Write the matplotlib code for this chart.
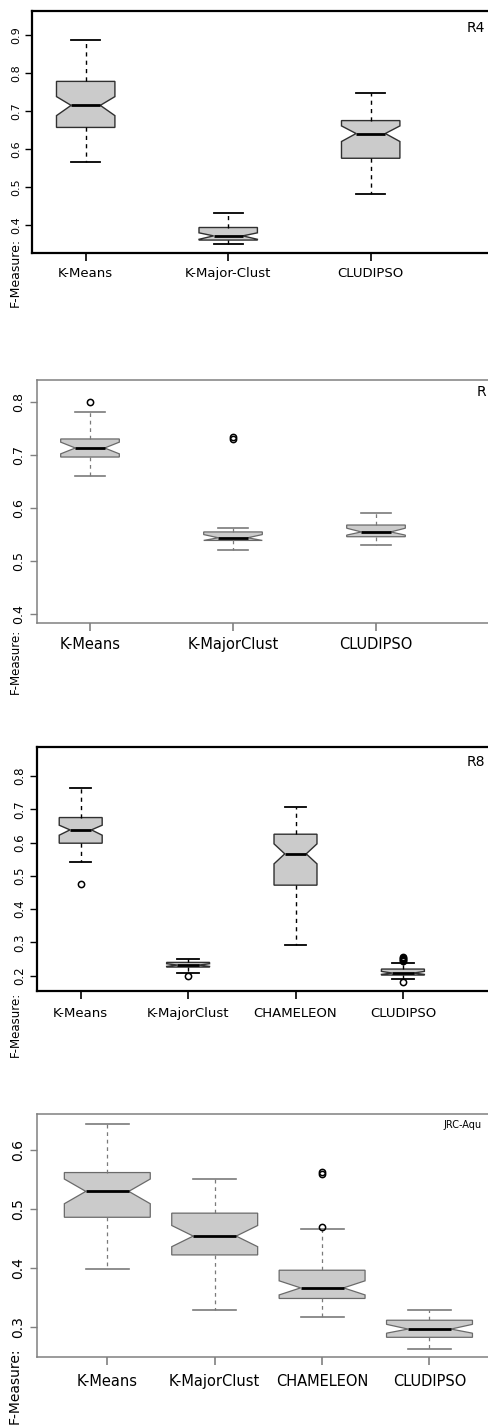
#!/usr/bin/env python3
import matplotlib

matplotlib.use("Agg")
import matplotlib.pyplot as plt  # noqa: E402

# -------------------------------
# Data
# -------------------------------
R4_NAMES = ["K-Means", "K-Major-Clust", "CLUDIPSO"]
R4_WHISLO = [0.565, 0.350, 0.481]
R4_Q1 = [0.657, 0.361, 0.576]
R4_MED = [0.715, 0.372, 0.641]
R4_Q3 = [0.778, 0.394, 0.675]
R4_WHISHI = [0.888, 0.432, 0.748]
R4_CILO = [0.688, 0.363, 0.620]
R4_CIHI = [0.738, 0.380, 0.661]
R4_FLIERS = [[], [], []]

R52_NAMES = ["K-Means", "K-MajorClust", "CLUDIPSO"]
R52_WHISLO = [0.661, 0.521, 0.530]
R52_Q1 = [0.696, 0.539, 0.546]
R52_MED = [0.713, 0.544, 0.555]
R52_Q3 = [0.730, 0.555, 0.568]
R52_WHISHI = [0.780, 0.563, 0.591]
R52_CILO = [0.702, 0.539, 0.549]
R52_CIHI = [0.724, 0.550, 0.562]
R52_FLIERS = [[0.800], [0.730, 0.734], []]

R8_NAMES = ["K-Means", "K-MajorClust", "CHAMELEON", "CLUDIPSO"]
R8_WHISLO = [0.542, 0.208, 0.291, 0.189]
R8_Q1 = [0.598, 0.226, 0.472, 0.202]
R8_MED = [0.638, 0.232, 0.566, 0.208]
R8_Q3 = [0.675, 0.240, 0.625, 0.220]
R8_WHISHI = [0.765, 0.250, 0.708, 0.237]
R8_CILO = [0.622, 0.228, 0.536, 0.204]
R8_CIHI = [0.652, 0.236, 0.596, 0.213]
R8_FLIERS = [[0.475], [0.198], [], [0.181, 0.245, 0.248, 0.251, 0.254, 0.257]]

JRC_NAMES = ["K-Means", "K-MajorClust", "CHAMELEON", "CLUDIPSO"]
JRC_WHISLO = [0.398, 0.328, 0.316, 0.262]
JRC_Q1 = [0.486, 0.422, 0.348, 0.282]
JRC_MED = [0.530, 0.454, 0.366, 0.296]
JRC_Q3 = [0.562, 0.493, 0.396, 0.311]
JRC_WHISHI = [0.645, 0.551, 0.466, 0.329]
JRC_CILO = [0.509, 0.436, 0.354, 0.289]
JRC_CIHI = [0.551, 0.472, 0.378, 0.304]
JRC_FLIERS = [[], [], [0.469, 0.559, 0.563], []]

W, H = 489, 1425


def make_stats(names, lo, q1, med, q3, hi, cilo, cihi, fliers):
    return [
        dict(label=n, whislo=a, q1=b, med=c, q3=d, whishi=e, cilo=f, cihi=g, fliers=h)
        for n, a, b, c, d, e, f, g, h in zip(names, lo, q1, med, q3, hi, cilo, cihi, fliers)
    ]


def draw_panel(fig, px, stats, ylim, yticks, tag, tag_xy, tag_size, style):
    left, top, bottom, p1, step, width = px
    ax = fig.add_axes([left / W, 1 - bottom / H, (W - left) / W, (bottom - top) / H])
    n = len(stats)
    pos = list(range(1, n + 1))
    dark = style["dark"]
    ax.bxp(
        stats,
        positions=pos,
        widths=width,
        shownotches=True,
        patch_artist=True,
        boxprops=dict(facecolor="#cbcbcb", edgecolor=style["edge"], linewidth=style["lw"]),
        whiskerprops=dict(color=dark, linestyle=(0, (3, 3)), linewidth=style["lw"]),
        capprops=dict(color=dark, linewidth=style["lw"] + 0.3),
        medianprops=dict(color="black", linewidth=style["mlw"]),
        flierprops=dict(marker="o", markerfacecolor="none", markeredgecolor="black",
                        markersize=4.5, markeredgewidth=1.1),
    )
    ax.set_xlim(1 - (p1 - left) / step, 1 + (W - p1) / step)
    ax.set_ylim(*ylim)
    ax.set_yticks(yticks)
    ax.set_yticklabels([f"{t:.1f}" for t in yticks], fontsize=style["yfs"])
    ax.set_xticks(pos)
    ax.set_xticklabels([s["label"] for s in stats], fontsize=style["xfs"])
    ax.tick_params(axis="y", labelrotation=90, length=5, width=1, color=style["spine"],
                   pad=style["ypad"])
    ax.tick_params(axis="x", length=6, width=1.2, color=style["spine"], pad=style["xpad"])
    for lab in ax.get_yticklabels():
        lab.set_va("center")
    ax.spines["right"].set_visible(False)
    for side in ("top", "left", "bottom"):
        ax.spines[side].set_color(style["spine"])
        ax.spines[side].set_linewidth(style["slw"])
    fig.text(tag_xy[0] / W, 1 - tag_xy[1] / H, tag, fontsize=tag_size, ha="left", va="center")
    return ax


def main():
    fig = plt.figure(figsize=(W / 100, H / 100), dpi=100)

    heavy = dict(dark="black", edge="#303030", lw=1.0, mlw=2.0, spine="black", slw=1.6,
                 yfs=8, xfs=9.5, ypad=2.5, xpad=4)
    light = dict(dark="#7a7a7a", edge="#6a6a6a", lw=0.9, mlw=2.0, spine="#808080", slw=1.1,
                 yfs=9, xfs=10.5, ypad=3.5, xpad=4)

    draw_panel(fig, (32, 11, 253, 85.7, 142.5, 0.41),
               make_stats(R4_NAMES, R4_WHISLO, R4_Q1, R4_MED, R4_Q3, R4_WHISHI,
                          R4_CILO, R4_CIHI, R4_FLIERS),
               (0.327, 0.963), [0.4, 0.5, 0.6, 0.7, 0.8, 0.9], "R4", (467, 28), 10, heavy)
    draw_panel(fig, (36.7, 380, 623.3, 90, 143, 0.41),
               make_stats(R52_NAMES, R52_WHISLO, R52_Q1, R52_MED, R52_Q3, R52_WHISHI,
                          R52_CILO, R52_CIHI, R52_FLIERS),
               (0.383, 0.841), [0.4, 0.5, 0.6, 0.7, 0.8], "R", (477, 392), 10, light)
    heavy3 = dict(heavy, yfs=8.5, xfs=9.5, xpad=6)
    draw_panel(fig, (36.7, 747.3, 990.7, 80.7, 107.4, 0.40),
               make_stats(R8_NAMES, R8_WHISLO, R8_Q1, R8_MED, R8_Q3, R8_WHISHI,
                          R8_CILO, R8_CIHI, R8_FLIERS),
               (0.155, 0.886), [0.2, 0.3, 0.4, 0.5, 0.6, 0.7, 0.8], "R8", (467, 762), 10, heavy3)
    light4 = dict(light, yfs=10, xfs=10.5, xpad=6)
    draw_panel(fig, (36.7, 1114.3, 1357.3, 107.3, 107.4, 0.80),
               make_stats(JRC_NAMES, JRC_WHISLO, JRC_Q1, JRC_MED, JRC_Q3, JRC_WHISHI,
                          JRC_CILO, JRC_CIHI, JRC_FLIERS),
               (0.248, 0.661), [0.3, 0.4, 0.5, 0.6], "JRC-Aqu", (443, 1125), 7, light4)

    # y labels sit below the lowest tick label, as in the original R output
    for y_top, fs in [(238, 9), (629, 8.5), (992, 8.5), (1348, 10)]:
        fig.text(15 / W, 1 - y_top / H, "F-Measure:", rotation=90, fontsize=fs,
                 ha="center", va="top")

    fig.savefig("out.png", dpi=100)
    plt.close(fig)


if __name__ == "__main__":
    main()
